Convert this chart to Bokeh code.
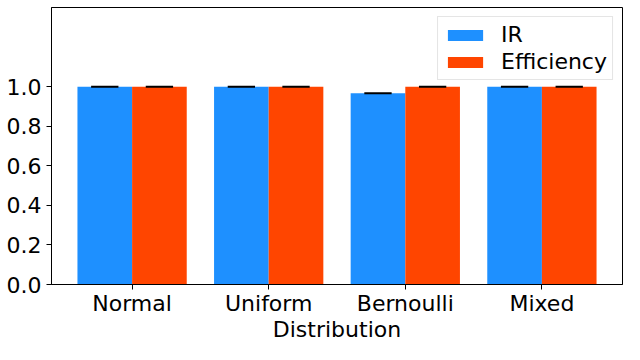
import numpy as np
from bokeh.plotting import figure
from bokeh.models import Range1d, FixedTicker, Legend, LegendItem
from bokeh.embed import file_html
from bokeh.resources import INLINE

categories = ["Normal", "Uniform", "Bernoulli", "Mixed"]
ir_values = [1.0, 1.0, 0.967, 1.0]
eff_values = [1.0, 1.0, 1.0, 1.0]
y_ticks = [0.0, 0.2, 0.4, 0.6, 0.8, 1.0]

FONT = "DejaVu Sans"
FS = "22px"

x = np.arange(len(categories))
bw = 0.4

p = figure(width=624, height=344, output_backend="svg", toolbar_location=None,
           x_range=Range1d(-0.59, 3.59), y_range=Range1d(0, 1.4),
           min_border_left=51, min_border_right=2, min_border_top=7, min_border_bottom=30)

r_ir = p.vbar(x=x - bw / 2, top=ir_values, width=bw, fill_color="#1e90ff", line_color=None)
r_eff = p.vbar(x=x + bw / 2, top=eff_values, width=bw, fill_color="#ff4500", line_color=None)

cap = 0.1
p.segment(x0=x - bw / 2 - cap, x1=x - bw / 2 + cap, y0=ir_values, y1=ir_values, line_color="black", line_width=2)
p.segment(x0=x + bw / 2 - cap, x1=x + bw / 2 + cap, y0=eff_values, y1=eff_values, line_color="black", line_width=2)

p.xgrid.visible = False
p.ygrid.visible = False
p.outline_line_color = "black"
p.outline_line_width = 1
p.outline_line_alpha = 1

p.xaxis.ticker = FixedTicker(ticks=list(x))
p.xaxis.major_label_overrides = {int(i): c for i, c in zip(x, categories)}
p.yaxis.ticker = FixedTicker(ticks=y_ticks)
p.yaxis.major_label_overrides = {t: f"{t:.1f}" for t in y_ticks}
p.xaxis.axis_label = "Distribution"

for ax in (p.xaxis, p.yaxis):
    ax.major_label_text_font = FONT
    ax.major_label_text_font_size = FS
    ax.major_label_text_color = "black"
    ax.axis_label_text_font = FONT
    ax.axis_label_text_font_size = FS
    ax.axis_label_text_font_style = "normal"
    ax.axis_label_text_color = "black"
    ax.minor_tick_line_color = None
    ax.major_tick_out = 5
    ax.major_tick_in = 0
    ax.major_tick_line_color = "black"
    ax.axis_line_color = "black"
p.xaxis.major_label_standoff = 1
p.xaxis.axis_label_standoff = -2
p.yaxis.major_label_standoff = 5

legend = Legend(items=[LegendItem(label="IR", renderers=[r_ir]),
                       LegendItem(label="Efficiency", renderers=[r_eff])],
                location="top_right")
legend.label_text_font = FONT
legend.label_text_font_size = FS
legend.label_text_color = "black"
legend.label_height = 24
legend.glyph_width = 44
legend.glyph_height = 14
legend.label_standoff = 14
legend.spacing = 2
legend.padding = 5
legend.margin = 9
legend.border_line_color = "#cccccc"
legend.border_line_width = 1
legend.background_fill_alpha = 0.8
p.add_layout(legend)

open("out.html", "w").write(file_html(p, INLINE))
